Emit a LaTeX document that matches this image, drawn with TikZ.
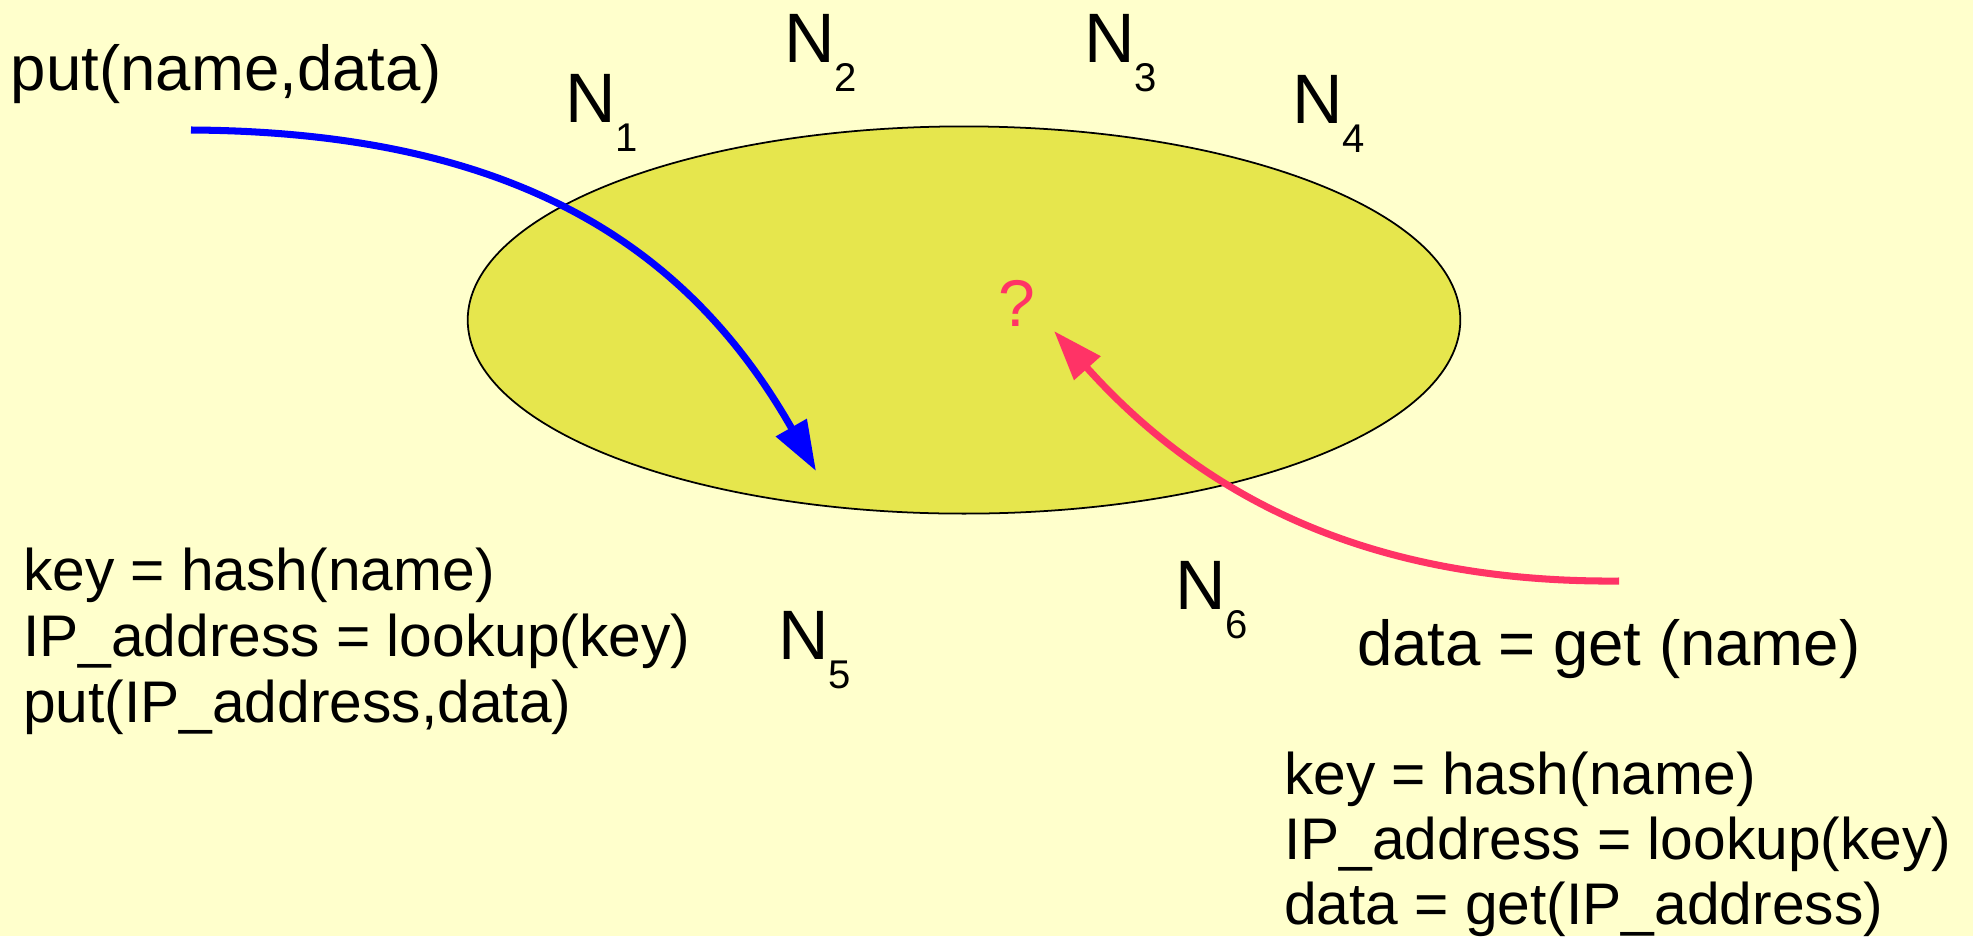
\documentclass[tikz,border=0pt]{standalone}
\usepackage{fontspec}
\setmainfont{Liberation Sans}
\usetikzlibrary{arrows.meta,shapes.geometric}
\definecolor{bgyellow}{RGB}{255,255,204}
\definecolor{ringfill}{RGB}{230,230,77}
\definecolor{getpink}{RGB}{255,51,102}
\definecolor{putblue}{RGB}{0,0,255}
\newcommand\nsub[1]{\raisebox{-8.25pt}{\fontsize{11.4pt}{12pt}\selectfont #1}}
\begin{document}
\begin{tikzpicture}[x=0.01cm,y=-0.01cm,
  lbl/.style={inner sep=0pt, outer sep=0pt, anchor=base west},
  big/.style={lbl, font=\fontsize{18.07pt}{20pt}\selectfont},
  nlab/.style={lbl, font=\fontsize{19.9pt}{22pt}\selectfont},
  code/.style={lbl, font=\fontsize{16.7pt}{19pt}\selectfont},
  flow/.style={line width=2pt, -{Triangle[length=0.5cm,width=0.34cm]}}]
\useasboundingbox (0,0) rectangle (1973,936);
\fill[bgyellow] (0,0) rectangle (1973,936);
\node[ellipse, draw=black, line width=0.5pt, fill=ringfill,
      minimum width=9.92cm, minimum height=3.87cm, inner sep=0pt] (ring) at (964,320) {};

% node labels
\node[nlab] (n1) at (565,122) {N\nsub{1}};
\node[nlab] (n2) at (784,62) {N\nsub{2}};
\node[nlab] (n3) at (1084,62) {N\nsub{3}};
\node[nlab] (n4) at (1292,123) {N\nsub{4}};
\node[nlab] (n5) at (778,659) {N\nsub{5}};
\node[nlab] (n6) at (1175,609) {N\nsub{6}};

% question mark
\node[lbl, text=getpink, font=\fontsize{18.8pt}{20pt}\selectfont] (q) at (998,326) {?};

% put side
\node[big] (put) at (11,90) {put(name,data)};
\node[code] (pl1) at (23,590) {key = hash(name)};
\node[code] (pl2) at (23,656) {IP\_address = lookup(key)};
\node[code] (pl3) at (23,722) {put(IP\_address,data)};

% get side
\node[big] (get) at (1357,665) {data = get (name)};
\node[code] (gl1) at (1284,794) {key = hash(name)};
\node[code] (gl2) at (1284,859) {IP\_address = lookup(key)};
\node[code] (gl3) at (1284,924) {data = get(IP\_address)};

% connectors
\coordinate (putstart) at (191,130);
\coordinate (puttip) at (816,471);
\coordinate (getstart) at (1619,581);
\coordinate (gettip) at (1054,331);
\draw[flow, putblue] (putstart) .. controls (520,132) and (690,250) .. (puttip);
\draw[flow, getpink] (getstart) .. controls (1380,583) and (1210,505) .. (gettip);
\end{tikzpicture}
\end{document}
